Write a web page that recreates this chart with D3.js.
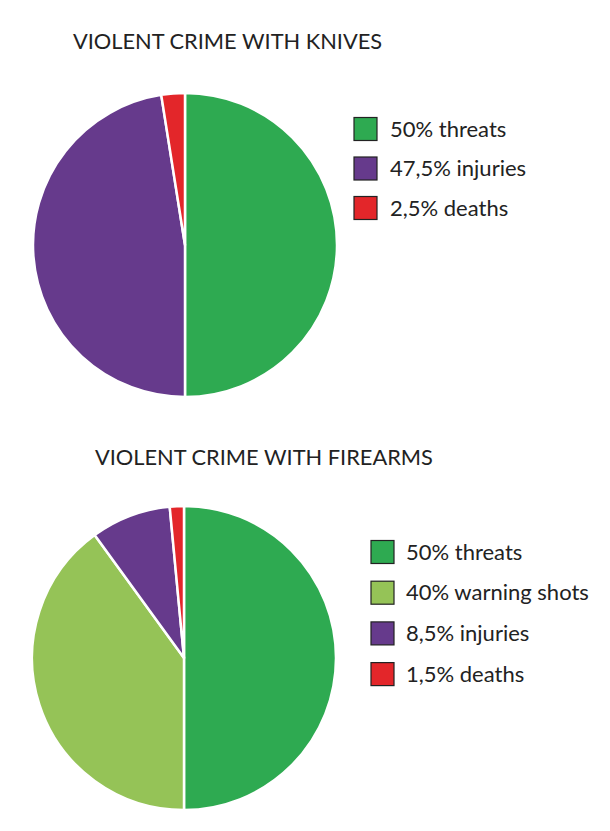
<!DOCTYPE html>
<html>
<head>
<meta charset="utf-8">
<script src="https://cdn.jsdelivr.net/npm/d3@7"></script>
<style>
  html, body { margin: 0; padding: 0; background: #fff; }
  svg { display: block; font-family: Lato, "Open Sans", sans-serif; }
</style>
</head>
<body>
<svg id="svg-root" width="610" height="831"></svg>
<script>
/* ---------- data ---------- */
const knifeLabels = ['50% threats', '47,5% injuries', '2,5% deaths'];
const knifeValues = [50, 47.5, 2.5];
const knifeColors = ['#2eaa51', '#663a8c', '#e3262a'];

const gunLabels = ['50% threats', '40% warning shots', '8,5% injuries', '1,5% deaths'];
const gunValues = [50, 40, 8.5, 1.5];
const gunColors = ['#2eaa51', '#95c357', '#663a8c', '#e3262a'];

/* ---------- layout ---------- */
const panels = [
  { title: 'VIOLENT CRIME WITH KNIVES', titleX: 73, titleY: 49,
    cx: 185, cy: 245, r: 152,
    labels: knifeLabels, values: knifeValues, colors: knifeColors,
    legX: 354, legY: 129, legStep: 39.5, textX: 390 },
  { title: 'VIOLENT CRIME WITH FIREARMS', titleX: 95, titleY: 465,
    cx: 184, cy: 658, r: 152,
    labels: gunLabels, values: gunValues, colors: gunColors,
    legX: 371, legY: 552, legStep: 40.7, textX: 406 }
];

const svg = d3.select('#svg-root');

panels.forEach(p => {
  const g = svg.append('g');

  g.append('text')
    .attr('x', p.titleX).attr('y', p.titleY)
    .attr('font-size', 21.8).attr('fill', '#222')
    .text(p.title);

  const pie = d3.pie().sort(null).value(d => d);
  const arc = d3.arc().innerRadius(0).outerRadius(p.r);
  const color = d3.scaleOrdinal().domain(d3.range(p.values.length)).range(p.colors);

  g.append('g')
    .attr('transform', `translate(${p.cx},${p.cy})`)
    .selectAll('path')
    .data(pie(p.values))
    .join('path')
    .attr('d', arc)
    .attr('fill', (d, i) => color(i))
    .attr('stroke', '#fff')
    .attr('stroke-width', 2.5)
    .attr('stroke-linejoin', 'round');

  // legend
  const y = d3.scalePoint().domain(d3.range(p.labels.length))
    .range([p.legY, p.legY + p.legStep * (p.labels.length - 1)]);

  const leg = g.append('g').selectAll('g')
    .data(p.labels)
    .join('g')
    .attr('transform', (d, i) => `translate(0,${y(i)})`);

  leg.append('rect')
    .attr('x', p.legX).attr('y', -11.5)
    .attr('width', 23).attr('height', 23)
    .attr('fill', (d, i) => color(i))
    .attr('stroke', '#222').attr('stroke-width', 1.2);

  leg.append('text')
    .attr('x', p.textX).attr('y', 0)
    .attr('dy', '0.35em')
    .attr('font-size', 22).attr('fill', '#222')
    .text(d => d);
});
</script>
</body>
</html>
